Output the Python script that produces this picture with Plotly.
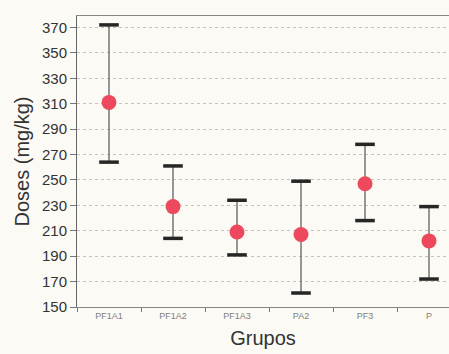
import plotly.graph_objects as go

# Group means with their upper and lower limits (mg/kg)
grupos = ["PF1A1", "PF1A2", "PF1A3", "PA2", "PF3", "P"]
media = [311, 229, 209, 207, 247, 202]
limite_sup = [372, 261, 234, 249, 278, 229]
limite_inf = [264, 204, 191, 161, 218, 172]

y_ticks = list(range(150, 371, 20))

err_plus = [s - m for s, m in zip(limite_sup, media)]
err_minus = [m - i for m, i in zip(media, limite_inf)]

fig = go.Figure()

# Vertical range lines
fig.add_trace(go.Scatter(
    x=grupos, y=media, mode="markers",
    marker=dict(size=1, color="rgba(0,0,0,0)"),
    error_y=dict(type="data", symmetric=False, array=err_plus,
                 arrayminus=err_minus, color="#555555", thickness=1.2, width=0),
    hoverinfo="skip", showlegend=False,
))

# Thick caps at both ends of each range
fig.add_trace(go.Scatter(
    x=grupos + grupos, y=limite_sup + limite_inf, mode="markers",
    marker=dict(symbol="line-ew", size=14, line=dict(width=3.5, color="#262626")),
    showlegend=False,
))

# Mean points
fig.add_trace(go.Scatter(
    x=grupos, y=media, mode="markers",
    marker=dict(size=15, color="#ec4a5c", line=dict(width=0)),
    showlegend=False,
))

fig.update_layout(
    width=449, height=354,
    margin=dict(l=77, r=0, t=16, b=47),
    paper_bgcolor="#fbfaf5", plot_bgcolor="#fbfaf5",
    font=dict(family="Arial, Liberation Sans, sans-serif", color="#333333"),
    xaxis=dict(
        type="category", categoryorder="array", categoryarray=grupos,
        range=[-0.5, 5.3125], tickson="boundaries",
        ticks="outside", ticklen=4, tickcolor="#777777",
        showline=True, linecolor="#888888", linewidth=1, mirror=True,
        showgrid=False, zeroline=False,
        tickfont=dict(size=9, color="#808080"),
        title=dict(text="Grupos", font=dict(size=20, color="#333333"), standoff=11),
    ),
    yaxis=dict(
        range=[150, 379], tickvals=y_ticks,
        ticks="outside", ticklen=6, tickcolor="#777777",
        showline=True, linecolor="#666666", linewidth=1,
        showgrid=True, gridcolor="#c4c4bc", gridwidth=1, griddash="dot",
        zeroline=False,
        tickfont=dict(size=15, color="#333333"),
        title=dict(text="Doses (mg/kg)", font=dict(size=20, color="#333333"), standoff=6),
    ),
)

fig.write_html("out.html")
